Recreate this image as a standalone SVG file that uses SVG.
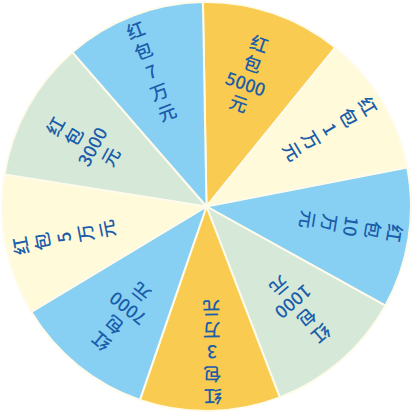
<svg xmlns="http://www.w3.org/2000/svg" width="413" height="413" viewBox="0 0 413 413">
<style>
.seg{stroke:#fffbea;stroke-width:2;stroke-linejoin:round}
.y{fill:#f9cb50}.c{fill:#fffad9}.b{fill:#87d0f3}.g{fill:#d6e9d8}
text{font-family:"Noto Sans CJK SC","Noto Sans",sans-serif;font-size:18px;font-weight:500;fill:#1a5daa;text-anchor:middle;dominant-baseline:central}
</style>
<rect width="413" height="413" fill="#ffffff"/>
<g id="seg1">
<path class="seg y" d="M206.5,206.5 L202.93,2.03 A204.5,204.5 0 0 1 335.20,47.57 Z"/>
<g transform="translate(206.5 206.5) rotate(19)"><text x="-3" y="-172">红</text><text x="-3" y="-151">包</text><text x="-3" y="-130">5000</text><text x="-3" y="-109">元</text></g>
</g>
<g id="seg2">
<path class="seg c" d="M206.5,206.5 L335.20,47.57 A204.5,204.5 0 0 1 407.24,167.48 Z"/>
<g transform="translate(206.5 206.5) rotate(59)"><text x="-3" y="-191">红</text><text x="-3" y="-169">包</text><text x="-3" y="-147">1</text><text x="-3" y="-125">万</text><text x="-3" y="-103">元</text></g>
</g>
<g id="seg3">
<path class="seg b" d="M206.5,206.5 L407.24,167.48 A204.5,204.5 0 0 1 385.36,305.64 Z"/>
<g transform="translate(206.5 206.5) rotate(99)"><text x="-3" y="-191">红</text><text x="-3" y="-169">包</text><text x="-3" y="-147">10</text><text x="-3" y="-125">万</text><text x="-3" y="-103">元</text></g>
</g>
<g id="seg4">
<path class="seg g" d="M206.5,206.5 L385.36,305.64 A204.5,204.5 0 0 1 279.79,397.42 Z"/>
<g transform="translate(206.5 206.5) rotate(139)"><text x="-3" y="-172">红</text><text x="-3" y="-151">包</text><text x="-3" y="-130">1000</text><text x="-3" y="-109">元</text></g>
</g>
<g id="seg5">
<path class="seg y" d="M206.5,206.5 L279.79,397.42 A204.5,204.5 0 0 1 139.92,399.86 Z"/>
<g transform="translate(206.5 206.5) rotate(179)"><text x="-3" y="-191">红</text><text x="-3" y="-169">包</text><text x="-3" y="-147">3</text><text x="-3" y="-125">万</text><text x="-3" y="-103">元</text></g>
</g>
<g id="seg6">
<path class="seg b" d="M206.5,206.5 L139.92,399.86 A204.5,204.5 0 0 1 31.21,311.83 Z"/>
<g transform="translate(206.5 206.5) rotate(219)"><text x="-3" y="-172">红</text><text x="-3" y="-151">包</text><text x="-3" y="-130">7000</text><text x="-3" y="-109">元</text></g>
</g>
<g id="seg7">
<path class="seg c" d="M206.5,206.5 L31.21,311.83 A204.5,204.5 0 0 1 4.52,174.51 Z"/>
<g transform="translate(206.5 206.5) rotate(259)"><text x="-3" y="-191">红</text><text x="-3" y="-169">包</text><text x="-3" y="-147">5</text><text x="-3" y="-125">万</text><text x="-3" y="-103">元</text></g>
</g>
<g id="seg8">
<path class="seg g" d="M206.5,206.5 L4.52,174.51 A204.5,204.5 0 0 1 72.34,52.16 Z"/>
<g transform="translate(206.5 206.5) rotate(299)"><text x="-3" y="-172">红</text><text x="-3" y="-151">包</text><text x="-3" y="-130">3000</text><text x="-3" y="-109">元</text></g>
</g>
<g id="seg9">
<path class="seg b" d="M206.5,206.5 L72.34,52.16 A204.5,204.5 0 0 1 202.93,2.03 Z"/>
<g transform="translate(206.5 206.5) rotate(339)"><text x="-3" y="-191">红</text><text x="-3" y="-169">包</text><text x="-3" y="-147">7</text><text x="-3" y="-125">万</text><text x="-3" y="-103">元</text></g>
</g>
</svg>
